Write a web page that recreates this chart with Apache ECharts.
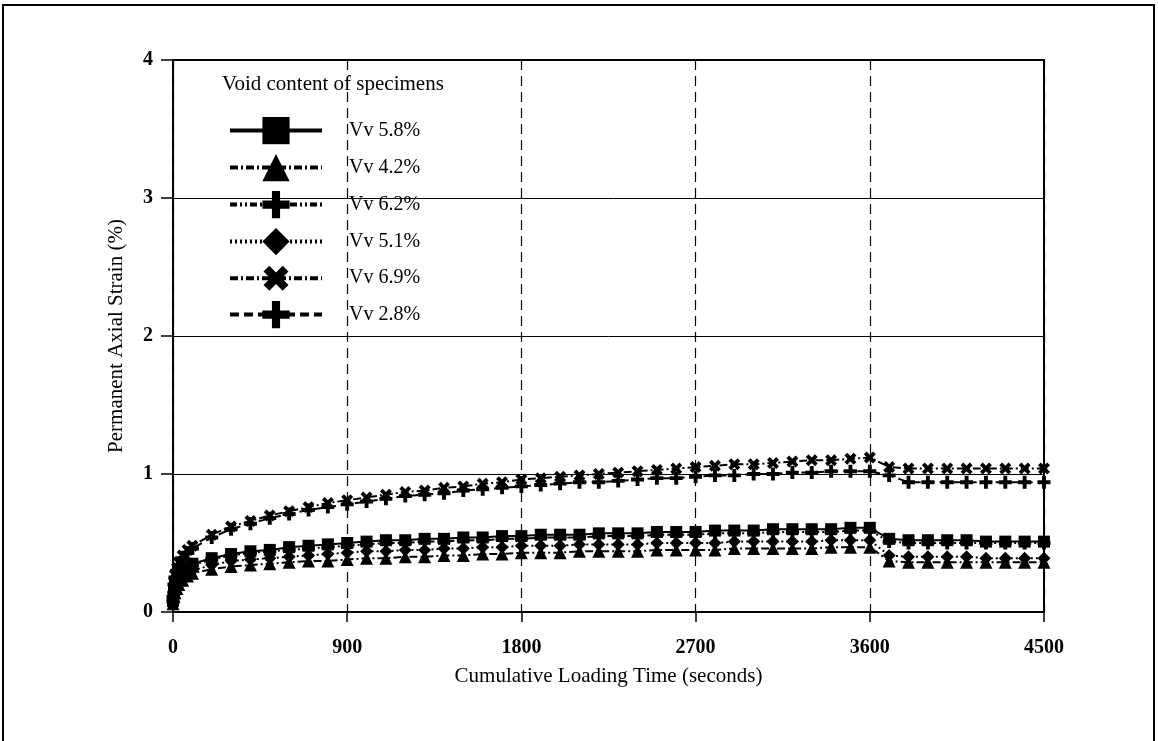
<!DOCTYPE html>
<html>
<head>
<meta charset="utf-8">
<script src="https://cdn.jsdelivr.net/npm/echarts@6/dist/echarts.min.js"></script>
<style>
html,body{margin:0;padding:0;background:#fff;}
#chart{width:1158px;height:741px;}
</style>
</head>
<body>
<div id="chart"></div>
<script>
// ---- data ----
var times = [0, 5, 10, 20, 30, 50, 75, 100, 200, 300, 400, 500, 600, 700, 800, 900,
  1000, 1100, 1200, 1300, 1400, 1500, 1600, 1700, 1800, 1900, 2000, 2100, 2200, 2300,
  2400, 2500, 2600, 2700, 2800, 2900, 3000, 3100, 3200, 3300, 3400, 3500, 3600,
  3700, 3800, 3900, 4000, 4100, 4200, 4300, 4400, 4500];

var seriesNames = ['Vv 5.8%', 'Vv 4.2%', 'Vv 6.2%', 'Vv 5.1%', 'Vv 6.9%', 'Vv 2.8%'];

var vv58 = [0.08, 0.15, 0.19, 0.23, 0.26, 0.30, 0.33, 0.35, 0.39, 0.42, 0.44, 0.45, 0.47, 0.48, 0.49, 0.50,
  0.51, 0.52, 0.52, 0.53, 0.53, 0.54, 0.54, 0.55, 0.55, 0.56, 0.56, 0.56, 0.57, 0.57,
  0.57, 0.58, 0.58, 0.58, 0.59, 0.59, 0.59, 0.60, 0.60, 0.60, 0.60, 0.61, 0.61,
  0.53, 0.52, 0.52, 0.52, 0.52, 0.51, 0.51, 0.51, 0.51];

var vv42 = [0.06, 0.11, 0.14, 0.17, 0.20, 0.23, 0.26, 0.28, 0.31, 0.33, 0.34, 0.35, 0.36, 0.37, 0.37, 0.38,
  0.39, 0.39, 0.40, 0.40, 0.41, 0.41, 0.42, 0.42, 0.43, 0.43, 0.43, 0.44, 0.44, 0.44,
  0.44, 0.45, 0.45, 0.45, 0.45, 0.46, 0.46, 0.46, 0.46, 0.46, 0.47, 0.47, 0.47,
  0.37, 0.36, 0.36, 0.36, 0.36, 0.36, 0.36, 0.36, 0.36];

var vv62 = [0.08, 0.14, 0.18, 0.22, 0.25, 0.29, 0.32, 0.34, 0.38, 0.41, 0.43, 0.44, 0.45, 0.46, 0.47, 0.48,
  0.49, 0.50, 0.50, 0.51, 0.51, 0.52, 0.52, 0.53, 0.53, 0.54, 0.54, 0.54, 0.55, 0.55,
  0.55, 0.56, 0.56, 0.56, 0.57, 0.57, 0.57, 0.58, 0.58, 0.58, 0.58, 0.59, 0.59,
  0.51, 0.50, 0.50, 0.50, 0.50, 0.50, 0.50, 0.50, 0.50];

var vv51 = [0.07, 0.12, 0.15, 0.19, 0.22, 0.25, 0.28, 0.30, 0.34, 0.37, 0.38, 0.39, 0.40, 0.41, 0.42, 0.43,
  0.44, 0.44, 0.45, 0.45, 0.46, 0.46, 0.47, 0.47, 0.48, 0.48, 0.48, 0.49, 0.49, 0.49,
  0.49, 0.50, 0.50, 0.50, 0.50, 0.51, 0.51, 0.51, 0.51, 0.51, 0.52, 0.52, 0.52,
  0.41, 0.40, 0.40, 0.40, 0.40, 0.39, 0.39, 0.39, 0.39];

var vv69 = [0.12, 0.22, 0.27, 0.32, 0.36, 0.41, 0.45, 0.48, 0.56, 0.62, 0.66, 0.70, 0.73, 0.76, 0.79, 0.81,
  0.83, 0.85, 0.87, 0.88, 0.90, 0.91, 0.93, 0.94, 0.96, 0.97, 0.98, 0.99, 1.00, 1.01,
  1.02, 1.03, 1.04, 1.05, 1.06, 1.07, 1.07, 1.08, 1.09, 1.10, 1.10, 1.11, 1.12,
  1.05, 1.04, 1.04, 1.04, 1.04, 1.04, 1.04, 1.04, 1.04];

var vv28 = [0.11, 0.20, 0.25, 0.30, 0.34, 0.39, 0.43, 0.46, 0.54, 0.60, 0.64, 0.68, 0.71, 0.74, 0.76, 0.78,
  0.80, 0.82, 0.84, 0.85, 0.86, 0.88, 0.89, 0.90, 0.91, 0.92, 0.93, 0.94, 0.94, 0.95,
  0.96, 0.97, 0.97, 0.98, 0.99, 0.99, 1.00, 1.00, 1.01, 1.01, 1.02, 1.02, 1.02,
  0.99, 0.94, 0.94, 0.94, 0.94, 0.94, 0.94, 0.94, 0.94];

var xTicks = [0, 900, 1800, 2700, 3600, 4500];
var yTicks = [0, 1, 2, 3, 4];

// ---- chart ----
var PLUS = 'path://M3.5,0H6.5V3.5H10V6.5H6.5V10H3.5V6.5H0V3.5H3.5Z';
var serif = '"Liberation Serif", "DejaVu Serif", serif';

function pairs(ys) { return times.map(function (t, i) { return [t, ys[i]]; }); }

var styles = [
  { data: vv58, symbol: 'rect', size: 12, rot: 0, type: 'solid' },
  { data: vv42, symbol: 'triangle', size: 13, rot: 0, type: [8, 3, 2, 3] },
  { data: vv62, symbol: PLUS, size: 13, rot: 0, type: [7, 3, 2, 3, 2, 3] },
  { data: vv51, symbol: 'diamond', size: 13, rot: 0, type: [2, 3] },
  { data: vv69, symbol: PLUS, size: 13, rot: 45, type: [8, 3, 2, 3] },
  { data: vv28, symbol: PLUS, size: 13, rot: 0, type: [9, 5] }
];

var series = styles.map(function (s, i) {
  return {
    name: seriesNames[i],
    type: 'line',
    data: pairs(s.data),
    symbol: s.symbol,
    symbolSize: s.size,
    symbolRotate: s.rot,
    showAllSymbol: true,
    lineStyle: { color: '#000', width: 2, type: s.type },
    itemStyle: { color: '#000' },
    animation: false,
    z: 3
  };
});

// per-item vertical nudges compensate for differing icon bounding boxes
var legendNudge = [4, 4, 4, 4, -2, 3];
var legends = seriesNames.map(function (name, i) {
  return {
    data: [name],
    orient: 'vertical',
    left: 228,
    top: 113 + i * 37 + legendNudge[i],
    padding: 0,
    itemWidth: 92,
    itemHeight: 34,
    lineStyle: { width: 4 },
    textStyle: { fontFamily: serif, fontSize: 20, color: '#000', padding: [0, 0, 0, 22] },
    selectedMode: false
  };
});

var chart = echarts.init(document.getElementById('chart'));
chart.setOption({
  backgroundColor: '#fff',
  animation: false,
  grid: { left: 173, right: 114, top: 60, bottom: 129, show: true, borderColor: '#000', borderWidth: 2, backgroundColor: 'transparent' },
  graphic: [
    { type: 'rect', shape: { x: 3, y: 5, width: 1151, height: 745 }, style: { fill: 'none', stroke: '#000', lineWidth: 2 }, silent: true },
    { type: 'text', left: 222, top: 74, style: { text: 'Void content of specimens', font: '21px ' + serif, fill: '#000' } }
  ],
  legend: legends,
  xAxis: {
    type: 'value',
    min: 0, max: 4500, interval: 900,
    name: 'Cumulative Loading Time (seconds)',
    nameLocation: 'middle',
    nameGap: 54,
    nameTextStyle: { fontFamily: serif, fontSize: 21, color: '#000' },
    axisLine: { show: true, lineStyle: { color: '#000', width: 2 } },
    axisTick: { show: true, inside: false, length: 10, lineStyle: { color: '#000', width: 1.5 } },
    axisLabel: { fontFamily: serif, fontSize: 20, fontWeight: 'bold', color: '#000', margin: 26,
      formatter: function (v) { return xTicks.indexOf(v) >= 0 ? String(v) : ''; } },
    splitLine: { show: true, lineStyle: { color: '#000', width: 1.2, type: [10, 6] } }
  },
  yAxis: {
    type: 'value',
    min: 0, max: 4, interval: 1,
    name: 'Permanent Axial Strain (%)',
    nameLocation: 'middle',
    nameGap: 46,
    nameTextStyle: { fontFamily: serif, fontSize: 21, color: '#000' },
    axisLine: { show: true, lineStyle: { color: '#000', width: 2 } },
    axisTick: { show: true, inside: false, length: 12, lineStyle: { color: '#000', width: 1.5 } },
    axisLabel: { fontFamily: serif, fontSize: 20, fontWeight: 'bold', color: '#000', margin: 20,
      formatter: function (v) { return yTicks.indexOf(v) >= 0 ? String(v) : ''; } },
    splitLine: { show: true, lineStyle: { color: '#000', width: 1 } }
  },
  series: series
});
</script>
</body>
</html>
